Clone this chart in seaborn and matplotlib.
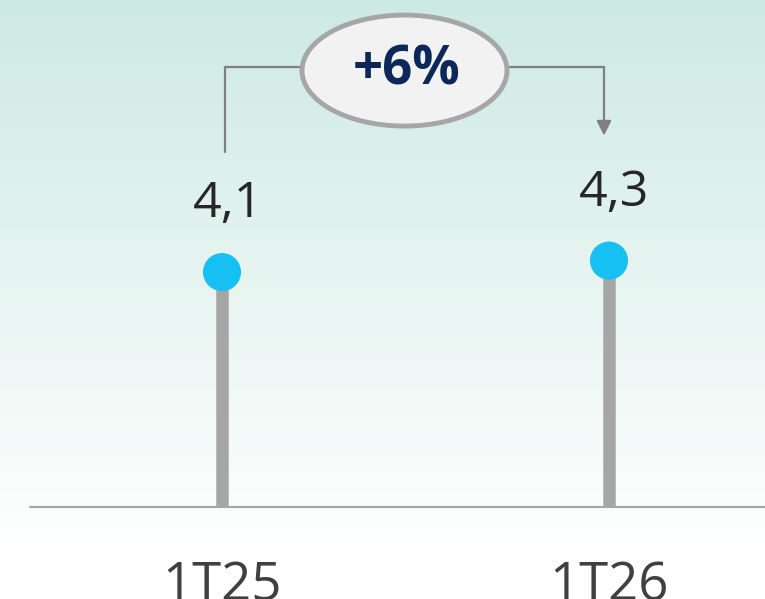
import numpy as np
import matplotlib.pyplot as plt
import seaborn as sns
from matplotlib.patches import Ellipse

# data
periods = ["1T25", "1T26"]
values = [4.1, 4.3]
value_labels = ["4,1", "4,3"]
change_label = "+6%"

sns.set_theme(style="white")
plt.rcParams['font.family'] = ['Open Sans', 'DejaVu Sans']

fig = plt.figure(figsize=(7.65, 5.99), dpi=100)
ax = fig.add_axes([0, 0, 1, 1])

# pixel-ish layout: categories at 222px and 609px, baseline at 92px from bottom
px_x = 387.0
px_y = 57.3
xlim = (-222 / px_x, (765 - 222) / px_x)
ylim = (-92 / px_y, (599 - 92) / px_y)
ax.axis("off")

# gradient background
top = np.array([205, 234, 226]) / 255
bot = np.array([255, 255, 255]) / 255
t = np.linspace(0, 1, 256)[:, None]
grad = top * (1 - t[..., None]) + bot * t[..., None]
grad = np.repeat(grad, 2, axis=1)
ax.imshow(grad, extent=[xlim[0], xlim[1], ylim[0] + 0.9, ylim[1]],
          aspect="auto", zorder=0)
ax.set_xlim(*xlim)
ax.set_ylim(*ylim)

# baseline
ax.plot([-192 / px_x, xlim[1]], [0, 0], color="#A6A6A6", lw=1.5, zorder=2)

xs = np.arange(len(periods))
ax.vlines(xs, 0, values, color="#A6A6A6", lw=9, zorder=3)
sns.scatterplot(x=xs, y=values, ax=ax, s=38 ** 2 * 0.52, color="#17C0F2",
                edgecolor="none", zorder=4, legend=False)

for x, v, lab in zip(xs, values, value_labels):
    ax.annotate(lab, (x, v), xytext=(4, 31), textcoords="offset points",
                ha="center", va="bottom", fontsize=36, color="#262626")

for x, lab in zip(xs, periods):
    ax.text(x, -53 / px_y, lab, ha="center", va="top", fontsize=38, color="#404040")

# bracket with change label
y_top = values[0] + 205 / px_y
xl = 3 / px_x
xr = 1 - 5 / px_x
xm = 0.5 - 11 / px_x
line_kw = dict(color="#808080", lw=1.6, zorder=3)
ax.plot([xl, xl, xm], [values[0] + 120 / px_y, y_top, y_top], **line_kw)
ax.annotate("", xy=(xr, values[1] + 125 / px_y), xytext=(xr, y_top),
            arrowprops=dict(arrowstyle="-|>", color="#808080", lw=1.6,
                            mutation_scale=22, shrinkA=0, shrinkB=0), zorder=3)
ax.plot([xm, xr], [y_top, y_top], **line_kw)
ell = Ellipse((xm, y_top - 3.5 / px_y), 205 / px_x, 111 / px_y,
              facecolor="#F2F2F2", edgecolor="#A6A6A6", lw=3.5, zorder=5)
ax.add_patch(ell)
ax.text(xm + 2 / px_x, y_top - 3 / px_y, change_label, ha="center", va="center",
        fontsize=38, fontweight="bold", color="#0B2858", zorder=6)

fig.savefig("out.png", dpi=100)
